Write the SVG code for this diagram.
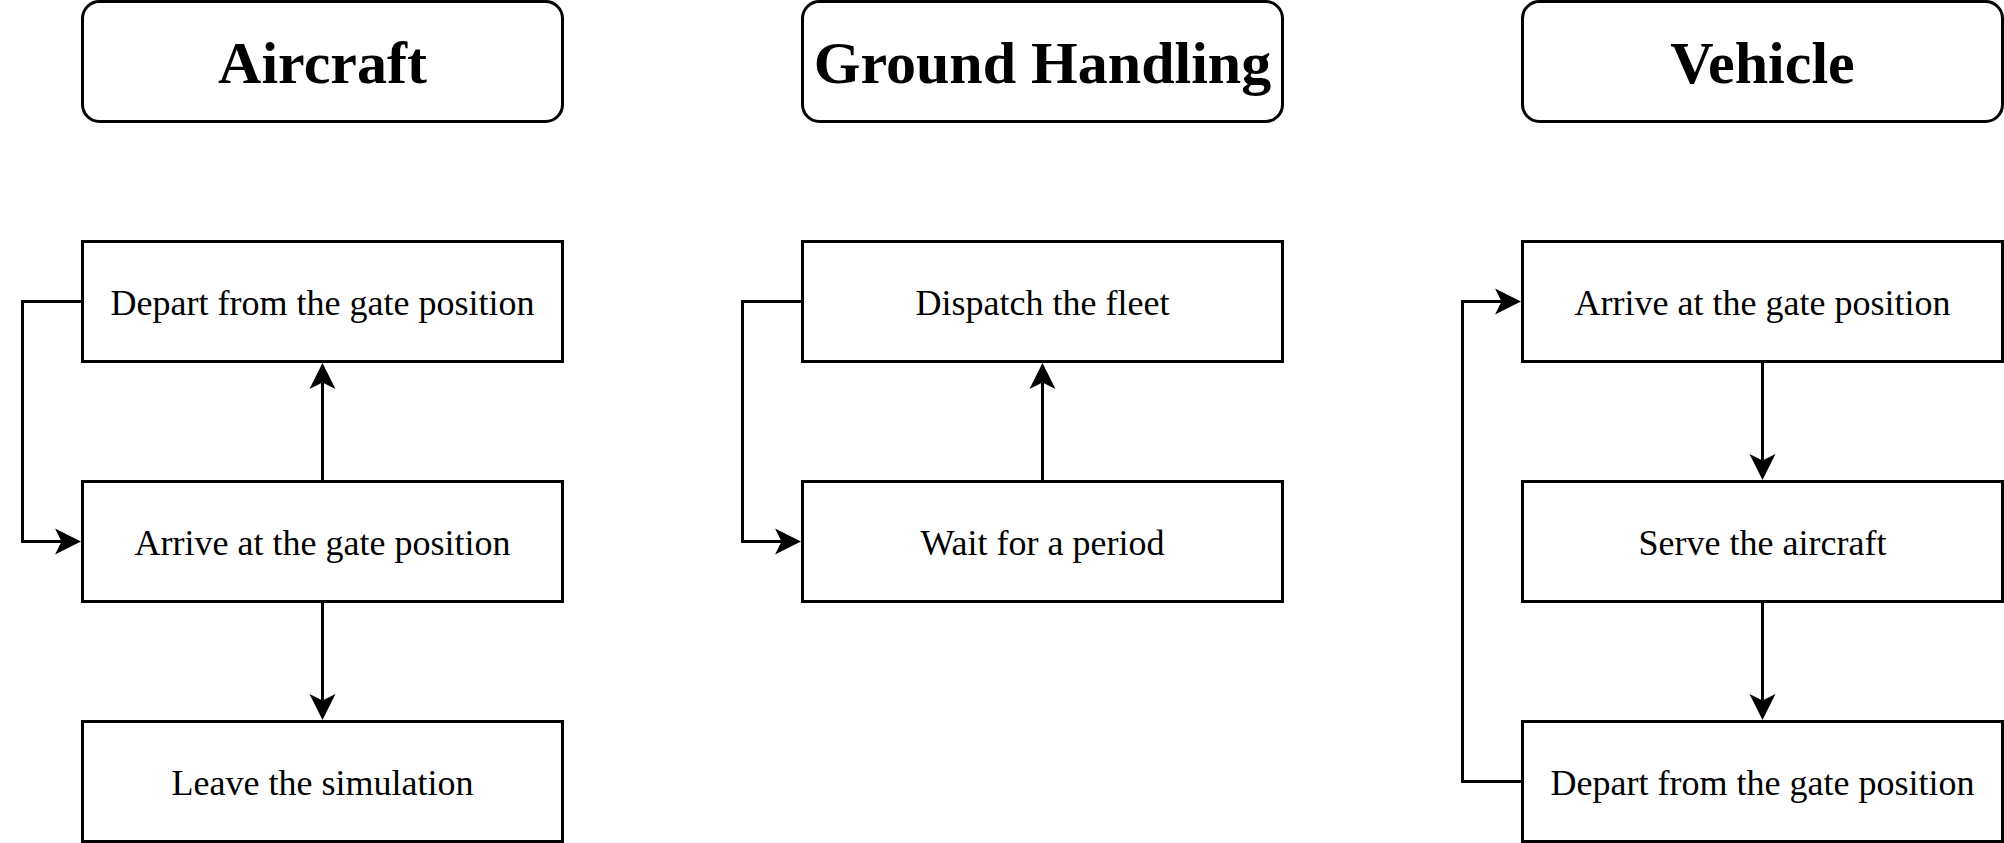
<svg xmlns="http://www.w3.org/2000/svg" width="2004" height="843" viewBox="0 0 2004 843">
<style>
.t{fill:#fff;stroke:#000;stroke-width:3}
.b{fill:#fff;stroke:#000;stroke-width:3}
.ht{font-family:"Liberation Serif","Times New Roman",serif;font-weight:bold;font-size:60px;text-anchor:middle;fill:#000}
.bt{font-family:"Liberation Serif","Times New Roman",serif;font-size:36px;text-anchor:middle;fill:#000}
.c{fill:none;stroke:#000;stroke-width:3;marker-end:url(#arr)}
</style>
<defs>
<marker id="arr" markerUnits="userSpaceOnUse" viewBox="-27 -14 28 28" refX="-19.5" refY="0" markerWidth="28" markerHeight="28" orient="auto">
<path d="M0,0 L-26,-13 L-19.5,0 L-26,13 Z" fill="#000"/>
</marker>
</defs>
<rect width="2004" height="843" fill="#fff"/>
<g id="connectors">
<path class="c" d="M322.5,481.5 V382.5"/>
<path class="c" d="M322.5,601.5 V700.5"/>
<path class="c" d="M82.5,301.5 H22.5 V541.5 H61.5"/>
<path class="c" d="M1042.5,481.5 V382.5"/>
<path class="c" d="M802.5,301.5 H742.5 V541.5 H781.5"/>
<path class="c" d="M1762.5,361.5 V460.5"/>
<path class="c" d="M1762.5,601.5 V700.5"/>
<path class="c" d="M1522.5,781.5 H1462.5 V301.5 H1501.5"/>
</g>
<g id="title-aircraft"><rect class="t" x="82.5" y="1.5" width="480" height="120" rx="17"/><text class="ht" x="322.5" y="83">Aircraft</text></g>
<g id="title-ground"><rect class="t" x="802.5" y="1.5" width="480" height="120" rx="17"/><text class="ht" x="1042.5" y="83">Ground Handling</text></g>
<g id="title-vehicle"><rect class="t" x="1522.5" y="1.5" width="480" height="120" rx="17"/><text class="ht" x="1762.5" y="83">Vehicle</text></g>
<g id="ac-depart"><rect class="b" x="82.5" y="241.5" width="480" height="120"/><text class="bt" x="322.5" y="314.5">Depart from the gate position</text></g>
<g id="ac-arrive"><rect class="b" x="82.5" y="481.5" width="480" height="120"/><text class="bt" x="322.5" y="554.5">Arrive at the gate position</text></g>
<g id="ac-leave"><rect class="b" x="82.5" y="721.5" width="480" height="120"/><text class="bt" x="322.5" y="794.5">Leave the simulation</text></g>
<g id="gh-dispatch"><rect class="b" x="802.5" y="241.5" width="480" height="120"/><text class="bt" x="1042.5" y="314.5">Dispatch the fleet</text></g>
<g id="gh-wait"><rect class="b" x="802.5" y="481.5" width="480" height="120"/><text class="bt" x="1042.5" y="554.5">Wait for a period</text></g>
<g id="v-arrive"><rect class="b" x="1522.5" y="241.5" width="480" height="120"/><text class="bt" x="1762.5" y="314.5">Arrive at the gate position</text></g>
<g id="v-serve"><rect class="b" x="1522.5" y="481.5" width="480" height="120"/><text class="bt" x="1762.5" y="554.5">Serve the aircraft</text></g>
<g id="v-depart"><rect class="b" x="1522.5" y="721.5" width="480" height="120"/><text class="bt" x="1762.5" y="794.5">Depart from the gate position</text></g>
</svg>
